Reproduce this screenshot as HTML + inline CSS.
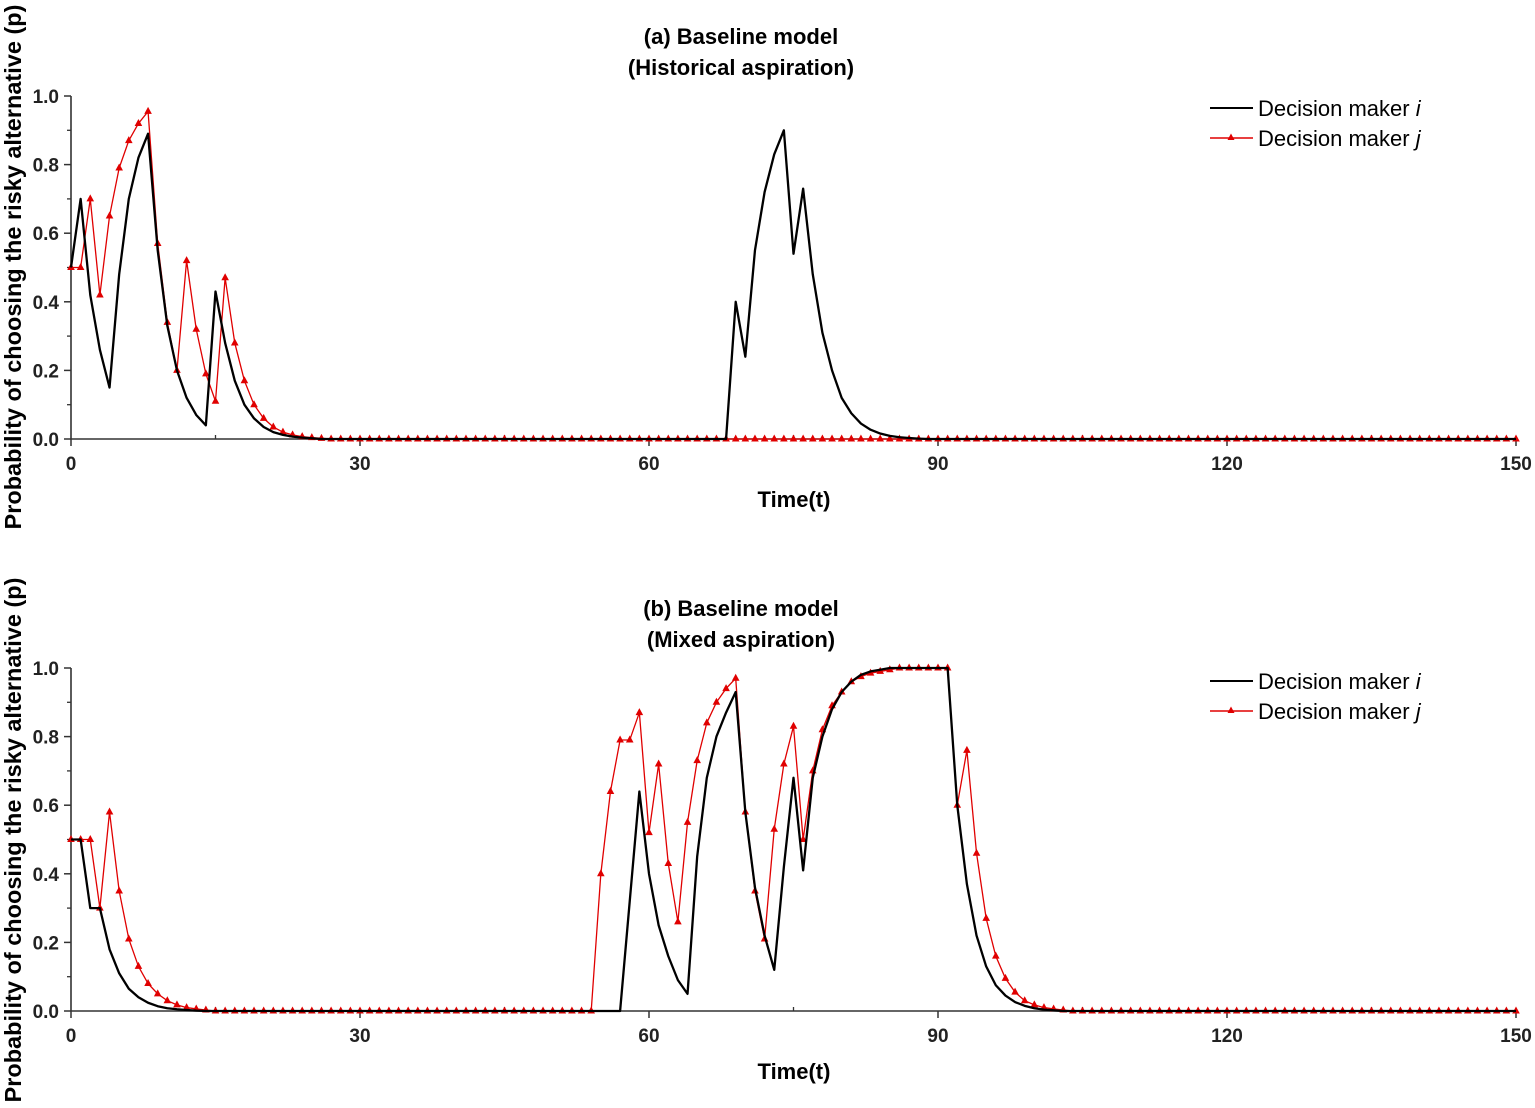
<!DOCTYPE html>
<html><head><meta charset="utf-8"><style>
html,body{margin:0;padding:0;background:#fff;}
svg{display:block;font-family:"Liberation Sans",Arial,sans-serif;}
</style></head><body>
<svg id="chart" width="1535" height="1108" viewBox="0 0 1535 1108"></svg>
<script>
// ---- data ----
const timeDomain = [0, 150];
const xTicks = [0, 30, 60, 90, 120, 150];
const yTicks = [0, 0.2, 0.4, 0.6, 0.8, 1.0];
const yTickLabels = ["0.0", "0.2", "0.4", "0.6", "0.8", "1.0"];
const panelTitlesA = ["(a) Baseline model", "(Historical aspiration)"];
const panelTitlesB = ["(b) Baseline model", "(Mixed aspiration)"];
const seriesNames = ["Decision maker i", "Decision maker j"];

// Panel (a), values for t = 0.. (remaining t are 0)
const histI_head = [0.5,0.70,0.42,0.26,0.15,0.48,0.70,0.82,0.89,0.55,0.33,0.20,0.12,0.07,0.04,0.43,0.28,0.17,0.10,0.06,0.035,0.02,0.012,0.007,0.004,0.002];
const histI_peakStart = 68;
const histI_peak = [0,0.40,0.24,0.55,0.72,0.83,0.90,0.54,0.73,0.48,0.31,0.20,0.12,0.075,0.045,0.027,0.016,0.009,0.005,0.003,0.001];
const histJ_head = [0.5,0.5,0.70,0.42,0.65,0.79,0.87,0.92,0.955,0.57,0.34,0.20,0.52,0.32,0.19,0.11,0.47,0.28,0.17,0.10,0.06,0.035,0.02,0.012,0.007,0.004,0.002];

// Panel (b)
const mixI_head = [0.5,0.5,0.30,0.30,0.18,0.11,0.065,0.04,0.024,0.014,0.008,0.005,0.003,0.001];
const mixI_midStart = 57;
const mixI_mid = [0,0.32,0.64,0.40,0.25,0.16,0.09,0.05,0.45,0.68,0.80,0.87,0.93,0.58,0.36,0.22,0.12,0.42,0.68,0.41,0.68,0.80,0.88,0.93,0.96,0.98,0.99,0.995,1,1,1,1,1,1,1,0.60,0.37,0.22,0.13,0.075,0.045,0.026,0.015,0.008,0.004,0.002];
const mixJ_head = [0.5,0.5,0.5,0.30,0.58,0.35,0.21,0.13,0.08,0.05,0.03,0.018,0.01,0.006,0.003];
const mixJ_midStart = 54;
const mixJ_mid = [0,0.40,0.64,0.79,0.79,0.87,0.52,0.72,0.43,0.26,0.55,0.73,0.84,0.90,0.94,0.97,0.58,0.35,0.21,0.53,0.72,0.83,0.50,0.70,0.82,0.89,0.93,0.96,0.975,0.985,0.99,0.995,1,1,1,1,1,1,0.60,0.76,0.46,0.27,0.16,0.095,0.055,0.03,0.018,0.01,0.006,0.003];

function build(head, start, mid){
  const arr = new Array(151).fill(0);
  head.forEach((v,i)=>arr[i]=v);
  if(mid) mid.forEach((v,i)=>arr[start+i]=v);
  return arr;
}
const histI = build(histI_head, histI_peakStart, histI_peak);
const histJ = build(histJ_head);
const mixI = build(mixI_head, mixI_midStart, mixI_mid);
const mixJ = build(mixJ_head, mixJ_midStart, mixJ_mid);

// ---- drawing ----
const NS = "http://www.w3.org/2000/svg";
const svg = document.getElementById("chart");
function el(tag, attrs, parent){
  const e = document.createElementNS(NS, tag);
  for (const k in attrs) e.setAttribute(k, attrs[k]);
  (parent||svg).appendChild(e);
  return e;
}
const X0 = 71, X1 = 1516;
function xs(t){ return X0 + (t - timeDomain[0])/(timeDomain[1]-timeDomain[0])*(X1-X0); }

function panel(id, y0, y1, titles, sI, sJ, legY, ytitleC){
  const g = el("g", {});
  
  
  const ys = v => y0 - v*(y0-y1);
  titles.forEach((t,i)=>{
    const tx = el("text",{x:741,y:(y1-52)+i*31,"text-anchor":"middle","font-size":"22","font-weight":"bold",fill:"#000"},g);
    tx.textContent = t;
    
    
  });
  const ax = el("path",{d:`M${X0},${y1} V${y0} H${X1}`,stroke:"#333",fill:"none","stroke-width":"1.6"},g);
  
  
  yTicks.forEach((v,i)=>{
    el("line",{x1:X0-7,x2:X0,y1:ys(v),y2:ys(v),stroke:"#333","stroke-width":"1.5"},g);
    if(i<yTicks.length-1) el("line",{x1:X0-4,x2:X0,y1:ys(v+0.1),y2:ys(v+0.1),stroke:"#333","stroke-width":"1.3"},g);
    const t = el("text",{x:X0-12,y:ys(v)+7,"text-anchor":"end","font-size":"19","font-weight":"bold",fill:"#222"},g);
    t.textContent = yTickLabels[i];
    
    
  });
  xTicks.forEach((v,i)=>{
    el("line",{x1:xs(v),x2:xs(v),y1:y0,y2:y0+7,stroke:"#333","stroke-width":"1.5"},g);
    if(i<xTicks.length-1) el("line",{x1:xs(v+15),x2:xs(v+15),y1:y0-4,y2:y0,stroke:"#333","stroke-width":"1.3"},g);
    const t = el("text",{x:xs(v),y:y0+31,"text-anchor":"middle","font-size":"19","font-weight":"bold",fill:"#222"},g);
    t.textContent = String(v);
    
    
  });
  const xt = el("text",{x:794,y:y0+68,"text-anchor":"middle","font-size":"22","font-weight":"bold",fill:"#000"},g);
  xt.textContent = "Time(t)";
  
  
  const yt = el("text",{x:0,y:0,"text-anchor":"middle","font-size":"23.5","font-weight":"bold",fill:"#000",transform:`translate(21,${ytitleC}) rotate(-90)`},g);
  yt.textContent = "Probability of choosing the risky alternative (p)";
  
  
  const pj = el("polyline",{points:sJ.map((v,t)=>`${xs(t)},${ys(v)}`).join(" "),fill:"none",stroke:"#e00000","stroke-width":"1.3"},g);
  
  
  sJ.forEach((v,t)=>{
    const x=xs(t), y=ys(v);
    const m = el("polygon",{points:`${x},${y-4.5} ${x-3.8},${y+2.5} ${x+3.8},${y+2.5}`,fill:"#e00000"},g);
    
    
  });
  const pi = el("polyline",{points:sI.map((v,t)=>`${xs(t)},${ys(v)}`).join(" "),fill:"none",stroke:"#000","stroke-width":"2.3","stroke-linejoin":"round"},g);
  
  
  const lg = el("g",{},g);
  
  
  el("line",{x1:1210,x2:1253,y1:legY,y2:legY,stroke:"#000","stroke-width":"2"},lg);
  el("line",{x1:1210,x2:1253,y1:legY+30,y2:legY+30,stroke:"#e00000","stroke-width":"1.5"},lg);
  el("polygon",{points:`1231,${legY+25.5} 1227.5,${legY+32} 1234.5,${legY+32}`,fill:"#e00000"},lg);
  ["i","j"].forEach((s,i)=>{
    const t = el("text",{x:1258,y:legY+8+i*30,"font-size":"22",fill:"#000"},lg);
    t.textContent = "Decision maker ";
    const ts = el("tspan",{"font-style":"italic"},t);
    ts.textContent = s;
    
    
  });
}
panel("panel-a-historical", 439, 96, panelTitlesA, histI, histJ, 108, 267);
panel("panel-b-mixed", 1011, 668, panelTitlesB, mixI, mixJ, 681, 840);
</script>
</body></html>
